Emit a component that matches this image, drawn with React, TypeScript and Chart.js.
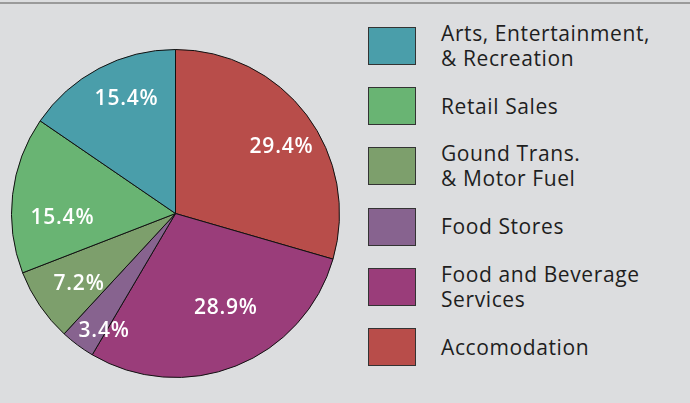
import React, { useEffect, useRef } from "react";
import { Chart, registerables } from "chart.js";

Chart.register(...registerables);

// Legend order (top to bottom)
const categories = [
  ["Arts, Entertainment,", "& Recreation"],
  ["Retail Sales"],
  ["Gound Trans.", "& Motor Fuel"],
  ["Food Stores"],
  ["Food and Beverage", "Services"],
  ["Accomodation"],
];
const shares = [15.4, 15.4, 7.2, 3.4, 28.9, 29.4];
const colors = ["#4a9eaa", "#69b473", "#7d9f6c", "#87638f", "#9a3d7a", "#b84d4a"];

// Label placement tweaks, in pie (clockwise from top) order
const labelRadius = [0.77, 0.64, 0.83, 0.72, 0.69, 0.77];
const labelAngle = [4, -7, -5, -1, -8, 5];

const BG = "#dcdddf";
const FONT = "'Open Sans', 'Noto Sans', sans-serif";

export default function App() {
  const ref = useRef<HTMLCanvasElement | null>(null);

  useEffect(() => {
    document.body.style.margin = "0";
    document.body.style.background = BG;
    const pieLabels = [...categories].reverse().map((c) => c.join(" "));
    const pieValues = [...shares].reverse();
    const pieColors = [...colors].reverse();

    const labelPlugin = {
      id: "sliceLabels",
      afterDatasetsDraw(chart: any) {
        const ctx = chart.ctx;
        const meta = chart.getDatasetMeta(0);
        ctx.save();
        ctx.fillStyle = "#ffffff";
        ctx.font = "600 21px " + FONT;
        (ctx as any).letterSpacing = "0.8px";
        ctx.textAlign = "center";
        ctx.textBaseline = "middle";
        meta.data.forEach((arc: any, i: number) => {
          const mid = (arc.startAngle + arc.endAngle) / 2 + (labelAngle[i] * Math.PI) / 180;
          const r = arc.outerRadius * labelRadius[i];
          const x = arc.x + Math.cos(mid) * r;
          const y = arc.y + Math.sin(mid) * r + 2;
          ctx.fillText(pieValues[i].toFixed(1) + "%", x, y);
        });
        ctx.restore();
      },
    };

    const chart = new Chart(ref.current as HTMLCanvasElement, {
      type: "pie",
      data: {
        labels: pieLabels,
        datasets: [
          {
            data: pieValues,
            backgroundColor: pieColors,
            borderColor: "#111111",
            borderWidth: 1,
          },
        ],
      },
      options: {
        animation: false,
        responsive: false,
        maintainAspectRatio: false,
        layout: { padding: 0 },
        plugins: {
          legend: { display: false },
          tooltip: { enabled: false },
        },
      },
      plugins: [labelPlugin],
    });
    return () => chart.destroy();
  }, []);

  return (
    <div
      style={{
        position: "relative",
        width: 690,
        height: 403,
        background: BG,
        overflow: "hidden",
        fontFamily: FONT,
      }}
    >
      <div
        style={{
          position: "absolute",
          left: 0,
          top: 2,
          width: 690,
          height: 2,
          background: "#9a9a9a",
        }}
      />
      <canvas
        ref={ref}
        width={329}
        height={329}
        style={{ position: "absolute", left: 11, top: 49, width: 329, height: 329 }}
      />
      {categories.map((lines, i) => (
        <div
          key={i}
          style={{
            position: "absolute",
            left: 368,
            top: 27 + i * 60.2,
            height: 38,
            display: "flex",
            alignItems: "center",
          }}
        >
          <div
            style={{
              width: 46,
              height: 36,
              background: colors[i],
              border: "1px solid #333",
              flex: "none",
            }}
          />
          <div
            style={{
              marginLeft: 25,
              fontSize: 21,
              letterSpacing: 0.6,
              lineHeight: "25px",
              color: "#1e1e1e",
              whiteSpace: "nowrap",
            }}
          >
            {lines.map((l, j) => (
              <div key={j}>{l}</div>
            ))}
          </div>
        </div>
      ))}
    </div>
  );
}
